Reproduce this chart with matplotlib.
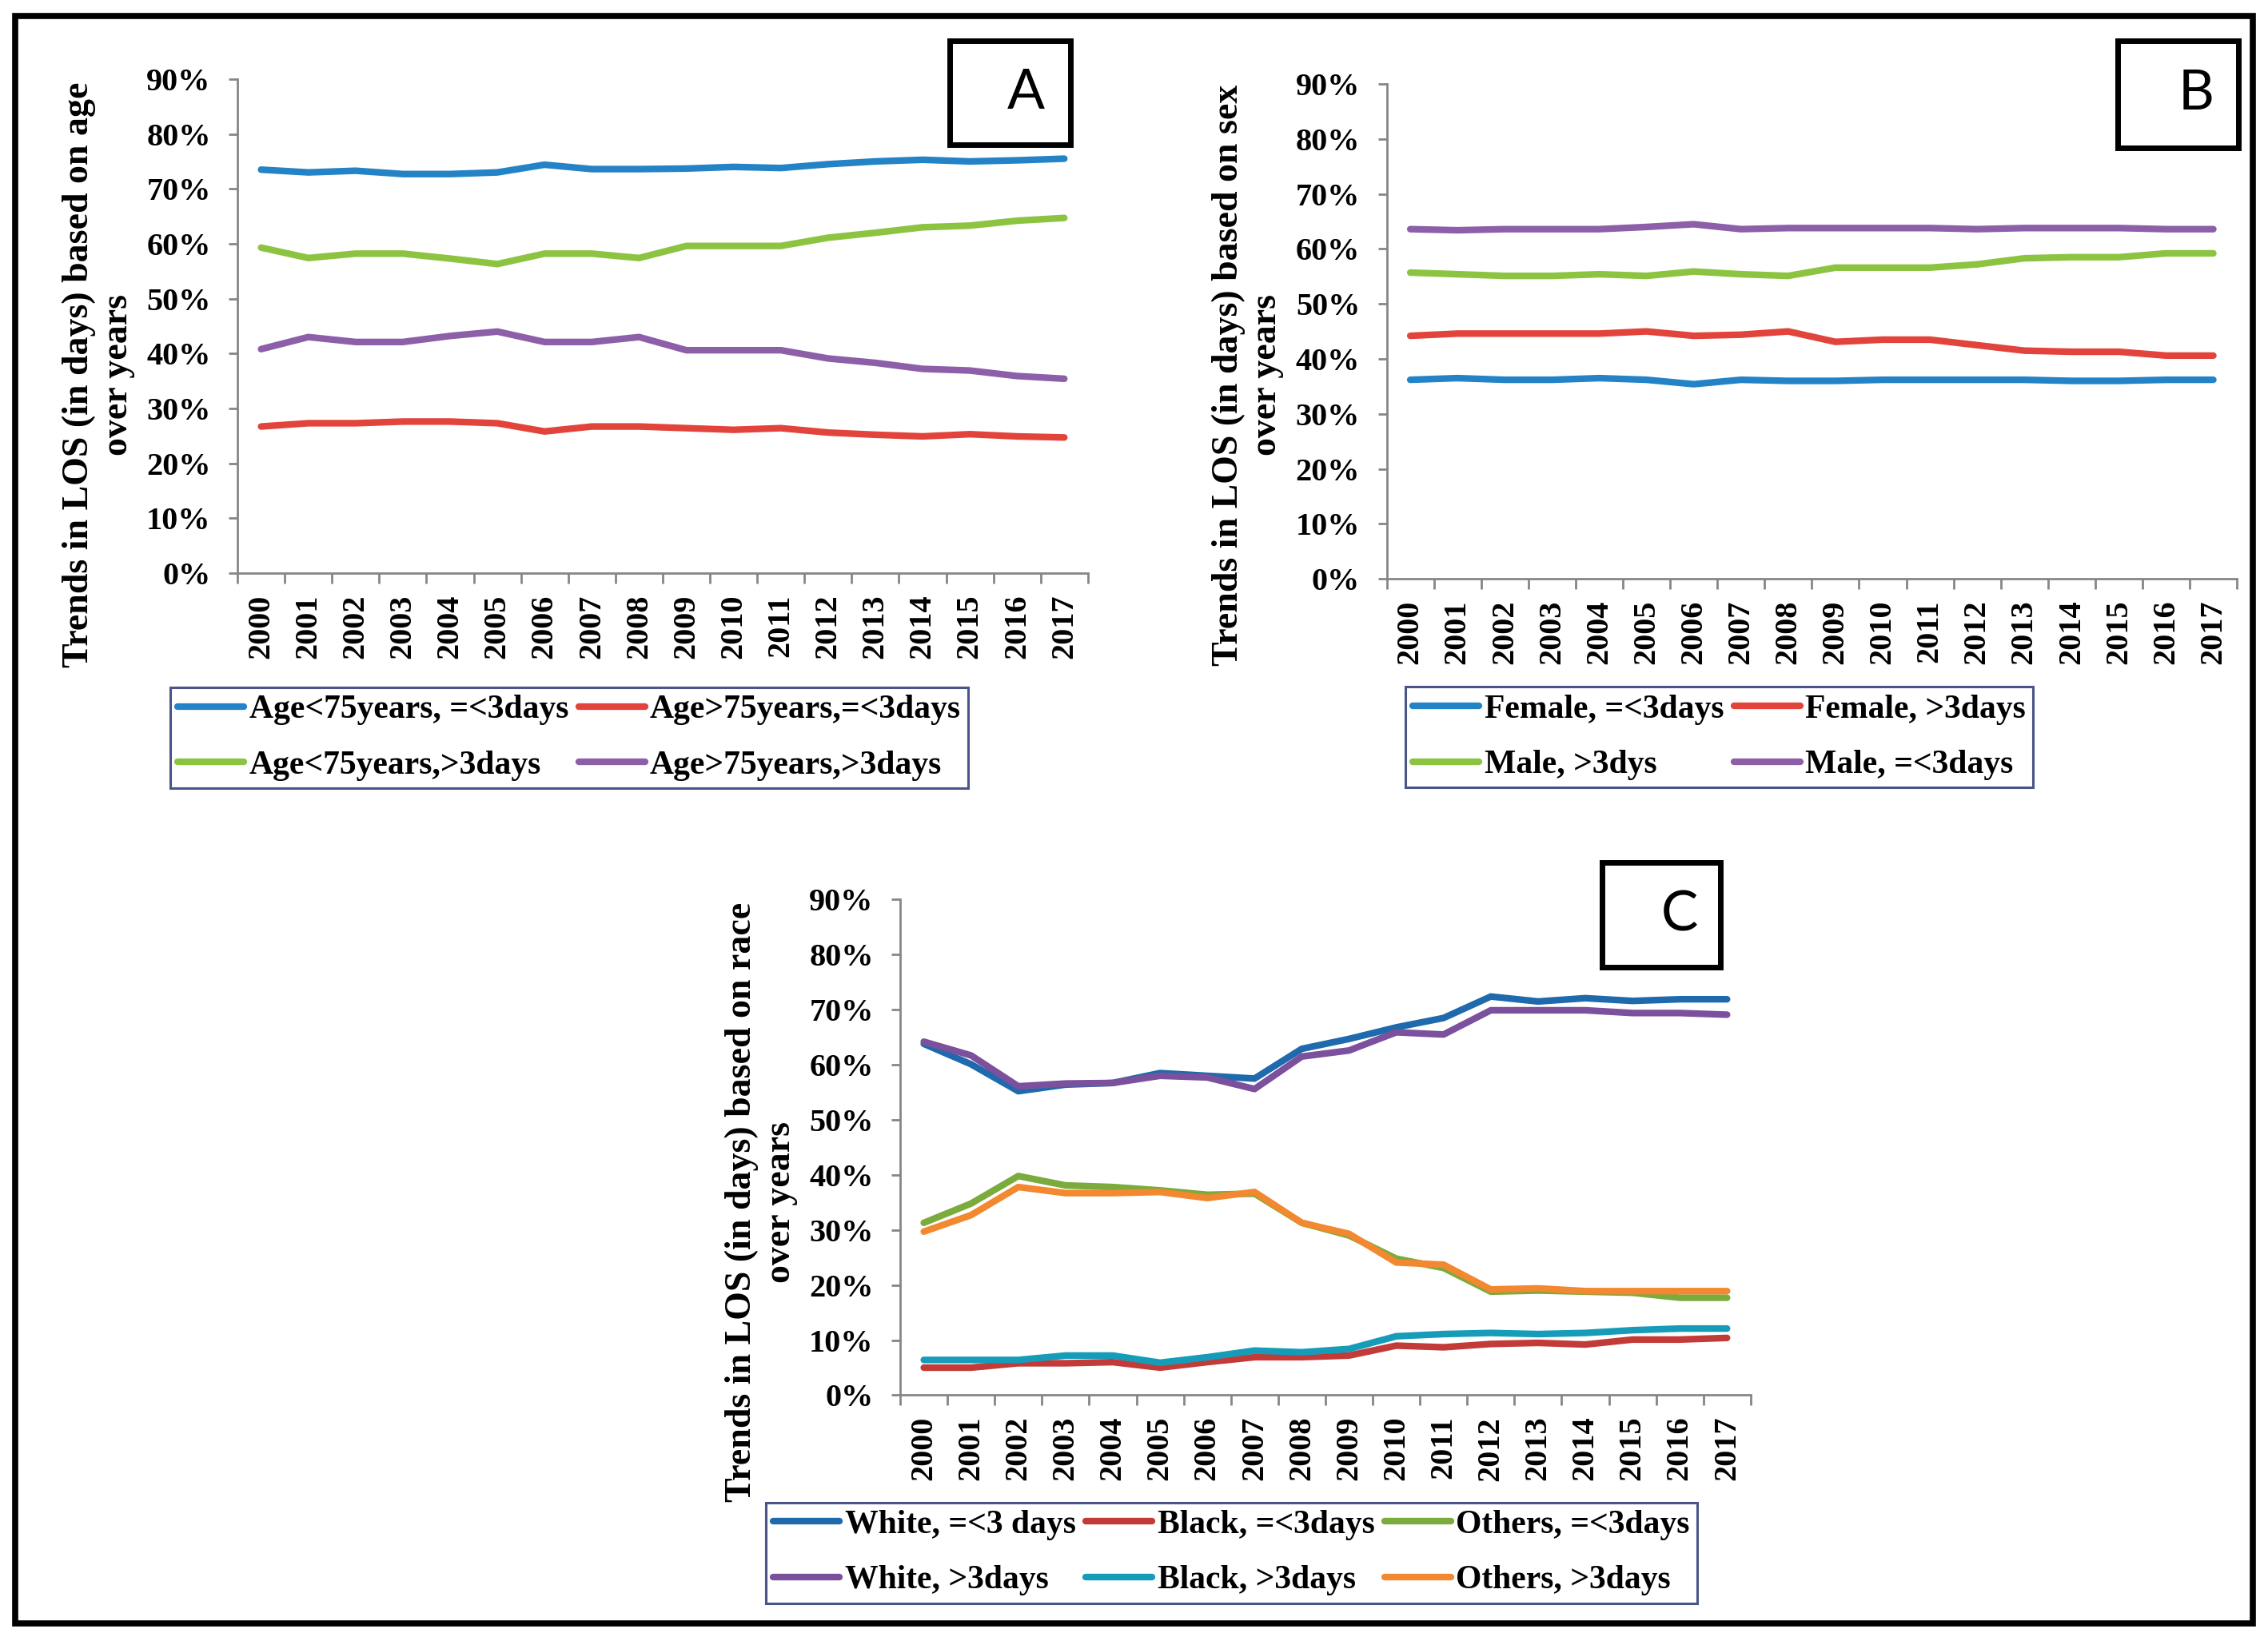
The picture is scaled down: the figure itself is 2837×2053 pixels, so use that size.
import matplotlib.pyplot as plt
from matplotlib.patches import Rectangle
from matplotlib.ticker import PercentFormatter, FixedLocator

# Years on the x axis
years = [str(y) for y in range(2000, 2018)]

# Panel A - age
age_lt75_le3 = [73.5, 73.0, 73.3, 72.7, 72.7, 73.0, 74.4, 73.6, 73.6, 73.7, 74.0, 73.8, 74.5, 75.0, 75.3, 75.0, 75.2, 75.5]
age_gt75_le3 = [26.7, 27.3, 27.3, 27.6, 27.6, 27.3, 25.8, 26.7, 26.7, 26.4, 26.1, 26.4, 25.6, 25.2, 24.9, 25.3, 24.9, 24.7]
age_lt75_gt3 = [59.3, 57.4, 58.2, 58.2, 57.3, 56.3, 58.2, 58.2, 57.4, 59.6, 59.6, 59.6, 61.1, 62.0, 63.0, 63.3, 64.2, 64.7]
age_gt75_gt3 = [40.8, 43.0, 42.1, 42.1, 43.2, 44.0, 42.1, 42.1, 43.0, 40.6, 40.6, 40.6, 39.1, 38.3, 37.2, 36.9, 35.9, 35.4]

# Panel B - sex
female_le3 = [36.2, 36.5, 36.2, 36.2, 36.5, 36.2, 35.4, 36.2, 36.0, 36.0, 36.2, 36.2, 36.2, 36.2, 36.0, 36.0, 36.2, 36.2]
female_gt3 = [44.2, 44.6, 44.6, 44.6, 44.6, 45.0, 44.2, 44.4, 45.0, 43.1, 43.5, 43.5, 42.5, 41.5, 41.3, 41.3, 40.6, 40.6]
male_gt3 = [55.7, 55.4, 55.1, 55.1, 55.4, 55.1, 55.9, 55.4, 55.1, 56.6, 56.6, 56.6, 57.2, 58.3, 58.5, 58.5, 59.2, 59.2]
male_le3 = [63.6, 63.4, 63.6, 63.6, 63.6, 64.0, 64.5, 63.6, 63.8, 63.8, 63.8, 63.8, 63.6, 63.8, 63.8, 63.8, 63.6, 63.6]

# Panel C - race
white_le3 = [63.8, 60.1, 55.2, 56.4, 56.7, 58.5, 58.0, 57.5, 62.9, 64.7, 66.8, 68.5, 72.4, 71.5, 72.1, 71.6, 71.9, 71.9]
black_le3 = [5.0, 5.0, 5.8, 5.8, 6.0, 5.0, 6.0, 6.9, 6.9, 7.2, 9.0, 8.7, 9.3, 9.5, 9.2, 10.1, 10.1, 10.4]
others_le3 = [31.3, 34.8, 39.8, 38.1, 37.8, 37.2, 36.4, 36.6, 31.3, 29.0, 24.8, 23.1, 18.8, 19.0, 18.8, 18.6, 17.7, 17.7]
white_gt3 = [64.2, 61.7, 56.1, 56.6, 56.7, 58.0, 57.7, 55.6, 61.5, 62.6, 65.9, 65.5, 69.9, 69.9, 69.9, 69.4, 69.4, 69.1]
black_gt3 = [6.4, 6.4, 6.4, 7.2, 7.2, 5.9, 6.9, 8.1, 7.8, 8.4, 10.7, 11.1, 11.3, 11.1, 11.3, 11.8, 12.1, 12.1]
others_gt3 = [29.7, 32.7, 37.8, 36.7, 36.7, 36.9, 35.8, 36.9, 31.3, 29.3, 24.1, 23.7, 19.2, 19.4, 18.9, 18.9, 18.9, 18.9]

SERIF = 'Liberation Serif'
plt.rcParams['font.family'] = SERIF
plt.rcParams['font.weight'] = 'bold'
plt.rcParams['lines.solid_capstyle'] = 'round'
plt.rcParams['lines.solid_joinstyle'] = 'round'

fig = plt.figure(figsize=(28.37, 20.53), dpi=100)

AXIS_GREY = '#868686'
LW = 6


def setup_axes(ax):
    n = len(years)
    ax.set_xlim(-0.5, n - 0.5)
    ax.set_ylim(0, 90)
    ax.yaxis.set_major_locator(FixedLocator(range(0, 91, 10)))
    ax.yaxis.set_major_formatter(PercentFormatter(decimals=0))
    ax.set_xticks(range(n))
    ax.set_xticklabels(years, rotation=90)
    ax.set_xticks([i - 0.5 for i in range(n + 1)], minor=True)
    for s in ['top', 'right']:
        ax.spines[s].set_visible(False)
    for s in ['left', 'bottom']:
        ax.spines[s].set_color(AXIS_GREY)
        ax.spines[s].set_linewidth(2)
    ax.tick_params(axis='y', length=8, width=2, color=AXIS_GREY, labelsize=29, pad=16)
    ax.tick_params(axis='x', which='major', length=0, labelsize=29, pad=19)
    ax.tick_params(axis='x', which='minor', length=9, width=2, color=AXIS_GREY)
    for lab in ax.get_xticklabels() + ax.get_yticklabels():
        lab.set_fontweight('bold')


def add_letter_box(x0, y0, w, h, letter, dx):
    fig.patches.append(Rectangle((x0, y0), w, h, transform=fig.transFigure,
                                 fill=False, edgecolor='black', linewidth=5))
    fig.text(x0 + w / 2 + dx, y0 + h / 2, letter, fontsize=50, family='Lato',
             fontweight='normal', ha='center', va='center')


legend_kw = dict(fontsize=30, frameon=True, fancybox=False, handlelength=2.0,
                 handletextpad=0.15, columnspacing=0.3, labelspacing=0.75,
                 borderpad=0.22, borderaxespad=0)


def style_legend(leg):
    leg.get_frame().set_edgecolor('#1c2a6b')
    leg.get_frame().set_linewidth(2.2)
    for t in leg.get_texts():
        t.set_fontweight('bold')


ylabel_kw = dict(rotation=90, ha='center', va='center', multialignment='center',
                 fontsize=33, fontweight='bold', linespacing=1.2)

# ---- Panel A ----
axA = fig.add_axes([0.1047, 0.6508, 0.375, 0.301])
x = range(len(years))
lA1, = axA.plot(x, age_lt75_le3, color='#2383c6', lw=LW, label='Age<75years, =<3days')
lA2, = axA.plot(x, age_gt75_le3, color='#e2443c', lw=LW, label='Age>75years,=<3days')
lA3, = axA.plot(x, age_lt75_gt3, color='#8cc442', lw=LW, label='Age<75years,>3days')
lA4, = axA.plot(x, age_gt75_gt3, color='#8c5fa8', lw=LW, label='Age>75years,>3days')
setup_axes(axA)
legA = fig.legend(handles=[lA1, lA3, lA2, lA4], ncol=2, loc='center',
                  bbox_to_anchor=(0.251, 0.5504), **legend_kw)
style_legend(legA)
fig.text(0.0435, 0.7716, 'Trends in LOS (in days) based on age\nover years', **ylabel_kw)
add_letter_box(0.4188, 0.9118, 0.0532, 0.0633, 'A', 0.007)

# ---- Panel B ----
axB = fig.add_axes([0.6114, 0.6473, 0.3749, 0.3015])
lB1, = axB.plot(x, female_le3, color='#2383c6', lw=LW, label='Female, =<3days')
lB2, = axB.plot(x, female_gt3, color='#e2443c', lw=LW, label='Female, >3days')
lB3, = axB.plot(x, male_gt3, color='#8cc442', lw=LW, label='Male, >3dys')
lB4, = axB.plot(x, male_le3, color='#8c5fa8', lw=LW, label='Male, =<3days')
setup_axes(axB)
legB = fig.legend(handles=[lB1, lB3, lB2, lB4], ncol=2, loc='center',
                  bbox_to_anchor=(0.758, 0.5507), **legend_kw)
style_legend(legB)
fig.text(0.5502, 0.7716, 'Trends in LOS (in days) based on sex\nover years', **ylabel_kw)
add_letter_box(0.9337, 0.9099, 0.0532, 0.0653, 'B', 0.008)

# ---- Panel C ----
axC = fig.add_axes([0.3969, 0.1498, 0.375, 0.302])
lC1, = axC.plot(x, white_le3, color='#1f6aad', lw=LW, label='White, =<3 days')
lC2, = axC.plot(x, black_le3, color='#c23b38', lw=LW, label='Black, =<3days')
lC3, = axC.plot(x, others_le3, color='#7aab3c', lw=LW, label='Others, =<3days')
lC4, = axC.plot(x, white_gt3, color='#7b509d', lw=LW, label='White, >3days')
lC5, = axC.plot(x, black_gt3, color='#169cb8', lw=LW, label='Black, >3days')
lC6, = axC.plot(x, others_gt3, color='#f2882f', lw=LW, label='Others, >3days')
setup_axes(axC)
legC = fig.legend(handles=[lC1, lC4, lC2, lC5, lC3, lC6], ncol=3, loc='center',
                  bbox_to_anchor=(0.543, 0.0538), **legend_kw)
style_legend(legC)
fig.text(0.3357, 0.2674, 'Trends in LOS (in days) based on race\nover years', **ylabel_kw)
add_letter_box(0.7064, 0.4106, 0.0522, 0.0638, 'C', 0.008)

# outer frame
fig.patches.append(Rectangle((0.0068, 0.0107), 0.9866, 0.9795, transform=fig.transFigure,
                             fill=False, edgecolor='black', linewidth=5.5))

fig.savefig('out.png', dpi=100)
